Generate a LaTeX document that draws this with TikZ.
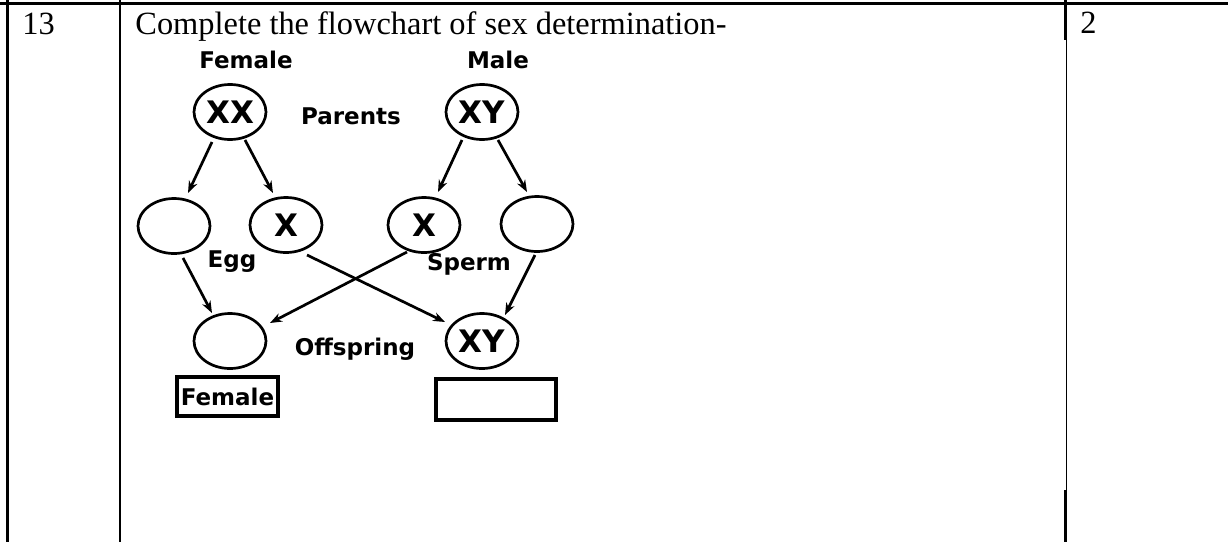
\documentclass[tikz,border=0pt]{standalone}
\usepackage{fontspec}
\setmainfont{Liberation Serif}
\newfontfamily\lblfont{DejaVu Sans}
\usepackage{tikz}
\usetikzlibrary{arrows.meta,calc,positioning,shapes.geometric}

\begin{document}
\begin{tikzpicture}[x=0.5pt,y=-0.5pt,
  rule/.style={line width=1.4pt},
  rulethin/.style={line width=0.7pt},
  txt/.style={font=\fontsize{16.2}{18}\selectfont, inner sep=0pt, anchor=base west},
  gam/.style={ellipse, draw, line width=1.35pt, minimum width=36pt, minimum height=27.5pt,
    inner sep=0pt, font=\lblfont\bfseries\fontsize{15.5}{16}\selectfont},
  lbl/.style={font=\lblfont\bfseries\fontsize{11.5}{12}\selectfont, inner sep=0pt},
  ans/.style={draw, line width=2pt, inner sep=0pt, font=\lblfont\bfseries\fontsize{11.5}{12}\selectfont},
  arr/.style={-{Stealth[length=6pt,width=4.5pt]}, line width=1.35pt}]
  \useasboundingbox (0,0) rectangle (1228,542);

  \draw[rule] (0,3.5) -- (1228,3.5);
  \draw[rule] (7.5,0) -- (7.5,542);
  \draw[rule] (120,0) -- (120,542);
  \draw[rule] (1065.5,0) -- (1065.5,40);
  \draw[rulethin] (1066.3,40) -- (1066.3,490);
  \draw[rule] (1065.5,490) -- (1065.5,542);

  \node[txt] (num) at (22,34) {13};
  \node[txt] (question) at (135,34) {Complete the flowchart of sex determination-};
  \node[txt] (marks) at (1080,33) {2};

  \node[lbl] (female) at (246,60) {Female};
  \node[lbl] (male) at (498,60) {Male};
  \node[gam] (pf) at (230,112) {XX};
  \node[lbl] (parents) at (351,116) {Parents};
  \node[gam] (pm) at (482,112) {XY};

  \node[gam] (ega) at (174,226) {};
  \node[gam] (egb) at (286,225) {X};
  \node[gam] (spa) at (424,225) {X};
  \node[gam] (spb) at (537,224) {};
  \node[lbl] (egg) at (232,262) {Egg};
  \node[lbl] (sperm) at (469,264) {Sperm};

  \node[gam] (offa) at (230,341) {};
  \node[lbl] (offspring) at (355,349) {Offspring};
  \node[gam] (offb) at (482,341) {XY};
  \node[ans, minimum width=50.5pt, minimum height=19.5pt] (ansa) at (227.5,396.5) {Female};
  \node[ans, minimum width=60pt, minimum height=20.5pt] (ansb) at (496,399.5) {};

  \draw[arr] ($(pf)+(-18,30)$) -- ($(ega)+(14,-33)$);
  \draw[arr] ($(pf)+(15,28)$) -- ($(egb)+(-13,-32)$);
  \draw[arr] ($(pm)+(-20,28)$) -- ($(spa)+(14,-33)$);
  \draw[arr] ($(pm)+(16,28)$) -- ($(spb)+(-10,-32)$);
  \draw[arr] ($(ega)+(9,32)$) -- ($(offa)+(-18,-28)$);
  \draw[arr] ($(egb)+(21,30)$) -- ($(offb)+(-37,-19)$);
  \draw[arr] ($(spa)+(-17,27)$) -- ($(offa)+(40,-18)$);
  \draw[arr] ($(spb)+(-2,31)$) -- ($(offb)+(23,-26)$);
\end{tikzpicture}
\end{document}
